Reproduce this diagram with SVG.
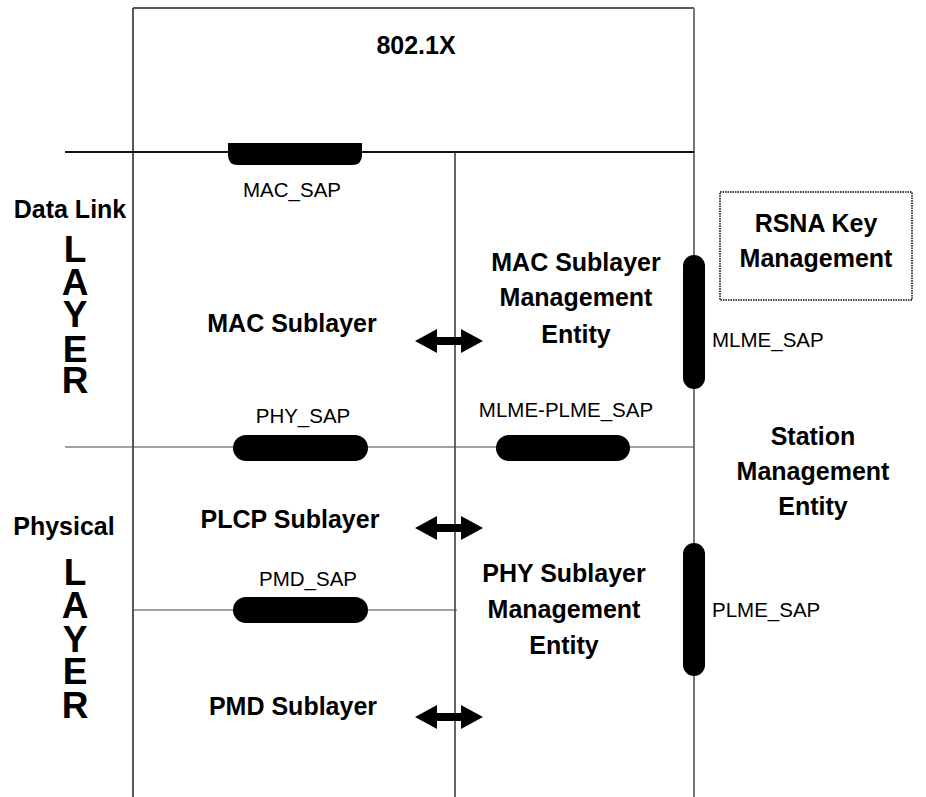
<svg xmlns="http://www.w3.org/2000/svg" width="926" height="797" viewBox="0 0 926 797">
<style>
.b{font-family:"Liberation Sans",Arial,sans-serif;font-weight:bold;font-size:25px;fill:#000;text-anchor:middle}
.r{font-family:"Liberation Sans",Arial,sans-serif;font-size:20.5px;fill:#000}
.c{text-anchor:middle}
.big{font-family:"Liberation Sans",Arial,sans-serif;font-weight:bold;font-size:37px;fill:#000;text-anchor:middle}
.ln{stroke:#222;stroke-width:1.5;fill:none}
.pill{fill:#000}
</style>
<defs>
<path id="darr" d="M0,0 L22,-12 L22,-4 L46,-4 L46,-12 L68,0 L46,12 L46,4 L22,4 L22,12 Z" fill="#000"/>
</defs>
<rect width="926" height="797" fill="#fff"/>
<g id="frame">
<line class="ln" x1="133" y1="8" x2="694" y2="8"/>
<line class="ln" x1="133" y1="8" x2="133" y2="797"/>
<line x1="694" y1="8" x2="694" y2="797" stroke="#777" stroke-width="2"/>
<line x1="455" y1="152" x2="455" y2="797" stroke="#333" stroke-width="1.5"/>
<line x1="65" y1="152" x2="694" y2="152" stroke="#111" stroke-width="2"/>
<line x1="65" y1="447" x2="694" y2="447" stroke="#444" stroke-width="1.2"/>
<line x1="133" y1="610" x2="457" y2="610" stroke="#444" stroke-width="1.2"/>
</g>
<g id="n8021x"><text class="b" x="416" y="54" font-size="24">802.1X</text></g>
<g id="datalink">
<text class="b" x="70" y="218">Data Link</text>
<text class="big"><tspan x="75" y="262">L</tspan><tspan x="75" y="295">A</tspan><tspan x="75" y="327">Y</tspan><tspan x="75" y="362">E</tspan><tspan x="75" y="393">R</tspan></text>
</g>
<g id="physical">
<text class="b" x="64" y="535">Physical</text>
<text class="big"><tspan x="75" y="585">L</tspan><tspan x="75" y="618">A</tspan><tspan x="75" y="652">Y</tspan><tspan x="75" y="684">E</tspan><tspan x="75" y="718">R</tspan></text>
</g>
<g id="macsap">
<path class="pill" d="M228,143 H362 V155 Q362,165 352,165 H238 Q228,165 228,155 Z"/>
<text class="r c" x="292" y="197">MAC_SAP</text>
</g>
<g id="macsub"><text class="b" x="292" y="332">MAC Sublayer</text></g>
<g id="mlme"><text class="b" x="576" y="271">MAC Sublayer</text><text class="b" x="576" y="306">Management</text><text class="b" x="576" y="343">Entity</text></g>
<g id="physap">
<rect class="pill" x="233" y="435" width="135" height="26" rx="13"/>
<text class="r c" x="303" y="423">PHY_SAP</text>
</g>
<g id="mlmeplmesap">
<rect class="pill" x="496" y="435" width="134" height="26" rx="13"/>
<text class="r c" x="566" y="417">MLME-PLME_SAP</text>
</g>
<g id="mlmesap">
<rect class="pill" x="683" y="255" width="22" height="134" rx="11"/>
<text class="r" x="712" y="347">MLME_SAP</text>
</g>
<g id="rsna">
<rect x="720" y="192" width="192" height="108" fill="none" stroke="#444" stroke-width="2" stroke-dasharray="1.5 1"/>
<text class="b" x="816" y="232">RSNA Key</text>
<text class="b" x="816" y="267">Management</text>
</g>
<g id="sme"><text class="b" x="813" y="445">Station</text><text class="b" x="813" y="480">Management</text><text class="b" x="813" y="515">Entity</text></g>
<g id="plcp"><text class="b" x="290" y="528">PLCP Sublayer</text></g>
<g id="pmdsap">
<rect class="pill" x="233" y="597" width="135" height="26" rx="13"/>
<text class="r c" x="308" y="586">PMD_SAP</text>
</g>
<g id="plme"><text class="b" x="564" y="582">PHY Sublayer</text><text class="b" x="564" y="618">Management</text><text class="b" x="564" y="654">Entity</text></g>
<g id="plmesap">
<rect class="pill" x="683" y="543" width="22" height="133" rx="11"/>
<text class="r" x="712" y="617">PLME_SAP</text>
</g>
<g id="pmd"><text class="b" x="293" y="715">PMD Sublayer</text></g>
<g id="connectors">
<use href="#darr" x="415" y="341"/>
<use href="#darr" x="415" y="528"/>
<use href="#darr" x="415" y="717"/>
</g>
</svg>
